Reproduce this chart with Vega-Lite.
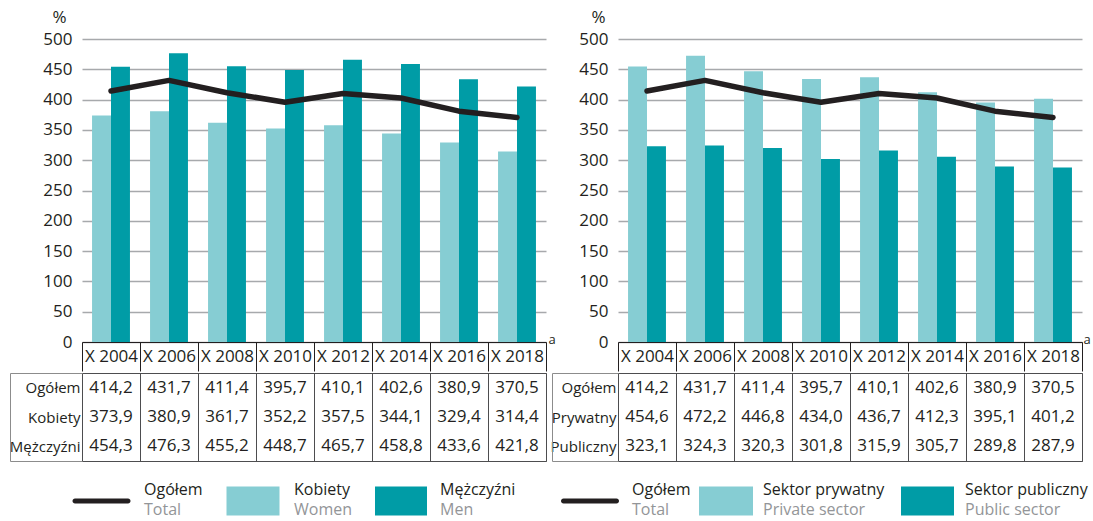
{
  "$schema": "https://vega.github.io/schema/vega-lite/v6.json",
  "padding": {"left": 8, "top": 8, "right": 2, "bottom": 4},
  "background": "white",
  "spacing": -7,
  "resolve": {"scale": {"xOffset": "independent"}},
  "datasets": {
    "left": [
      {"year": "X 2004", "series": "Ogółem", "value": 414.2},
      {"year": "X 2006", "series": "Ogółem", "value": 431.7},
      {"year": "X 2008", "series": "Ogółem", "value": 411.4},
      {"year": "X 2010", "series": "Ogółem", "value": 395.7},
      {"year": "X 2012", "series": "Ogółem", "value": 410.1},
      {"year": "X 2014", "series": "Ogółem", "value": 402.6},
      {"year": "X 2016", "series": "Ogółem", "value": 380.9},
      {"year": "X 2018", "series": "Ogółem", "value": 370.5},
      {"year": "X 2004", "series": "Kobiety", "value": 373.9},
      {"year": "X 2006", "series": "Kobiety", "value": 380.9},
      {"year": "X 2008", "series": "Kobiety", "value": 361.7},
      {"year": "X 2010", "series": "Kobiety", "value": 352.2},
      {"year": "X 2012", "series": "Kobiety", "value": 357.5},
      {"year": "X 2014", "series": "Kobiety", "value": 344.1},
      {"year": "X 2016", "series": "Kobiety", "value": 329.4},
      {"year": "X 2018", "series": "Kobiety", "value": 314.4},
      {"year": "X 2004", "series": "Mężczyźni", "value": 454.3},
      {"year": "X 2006", "series": "Mężczyźni", "value": 476.3},
      {"year": "X 2008", "series": "Mężczyźni", "value": 455.2},
      {"year": "X 2010", "series": "Mężczyźni", "value": 448.7},
      {"year": "X 2012", "series": "Mężczyźni", "value": 465.7},
      {"year": "X 2014", "series": "Mężczyźni", "value": 458.8},
      {"year": "X 2016", "series": "Mężczyźni", "value": 433.6},
      {"year": "X 2018", "series": "Mężczyźni", "value": 421.8}
    ],
    "right": [
      {"year": "X 2004", "series": "Ogółem", "value": 414.2},
      {"year": "X 2006", "series": "Ogółem", "value": 431.7},
      {"year": "X 2008", "series": "Ogółem", "value": 411.4},
      {"year": "X 2010", "series": "Ogółem", "value": 395.7},
      {"year": "X 2012", "series": "Ogółem", "value": 410.1},
      {"year": "X 2014", "series": "Ogółem", "value": 402.6},
      {"year": "X 2016", "series": "Ogółem", "value": 380.9},
      {"year": "X 2018", "series": "Ogółem", "value": 370.5},
      {"year": "X 2004", "series": "Prywatny", "value": 454.6},
      {"year": "X 2006", "series": "Prywatny", "value": 472.2},
      {"year": "X 2008", "series": "Prywatny", "value": 446.8},
      {"year": "X 2010", "series": "Prywatny", "value": 434.0},
      {"year": "X 2012", "series": "Prywatny", "value": 436.7},
      {"year": "X 2014", "series": "Prywatny", "value": 412.3},
      {"year": "X 2016", "series": "Prywatny", "value": 395.1},
      {"year": "X 2018", "series": "Prywatny", "value": 401.2},
      {"year": "X 2004", "series": "Publiczny", "value": 323.1},
      {"year": "X 2006", "series": "Publiczny", "value": 324.3},
      {"year": "X 2008", "series": "Publiczny", "value": 320.3},
      {"year": "X 2010", "series": "Publiczny", "value": 301.8},
      {"year": "X 2012", "series": "Publiczny", "value": 315.9},
      {"year": "X 2014", "series": "Publiczny", "value": 305.7},
      {"year": "X 2016", "series": "Publiczny", "value": 289.8},
      {"year": "X 2018", "series": "Publiczny", "value": 287.9}
    ],
    "legendL": [
      {"series": "Ogółem", "pl": "Ogółem", "en": "Total"},
      {"series": "Kobiety", "pl": "Kobiety", "en": "Women"},
      {"series": "Mężczyźni", "pl": "Mężczyźni", "en": "Men"}
    ],
    "legendR": [
      {"series": "Ogółem", "pl": "Ogółem", "en": "Total"},
      {"series": "Prywatny", "pl": "Sektor prywatny", "en": "Private sector"},
      {"series": "Publiczny", "pl": "Sektor publiczny", "en": "Public sector"}
    ]
  },
  "hconcat": [
    {
      "spacing": -7,
      "vconcat": [
        {
          "width": 464, "height": 303,
          "data": {"name": "left"},
          "encoding": {
            "x": {"field": "year", "type": "ordinal", "scale": {"paddingInner": 0, "paddingOuter": 0},
              "axis": {"title": "a", "titleX": 466, "titleY": -3, "titleAlign": "left", "titleBaseline": "middle", "titleFontSize": 13, "titleFontWeight": "normal", "titleAngle": 0,
                "domainColor": "#231F20", "domainWidth": 1, "tickBand": "extent", "tickSize": 29, "tickColor": "#231F20", "tickWidth": 1,
                "labelAngle": 0, "labelBaseline": "middle", "labelPadding": -14.5, "labelFontSize": 17, "grid": false}},
            "y": {"field": "value", "type": "quantitative", "scale": {"domain": [0, 500]},
              "axis": {"values": [0, 50, 100, 150, 200, 250, 300, 350, 400, 450, 500], "labelOverlap": false, "title": "%", "titleAngle": 0, "titleX": -23, "titleY": -22, "titleAlign": "center", "titleBaseline": "middle", "titleFontSize": 17, "titleFontWeight": "normal",
                "domain": false, "ticks": false, "grid": true, "gridColor": "#A7A9AC", "gridWidth": 1.6, "labelFontSize": 17, "labelPadding": 10}}
          },
          "layer": [
            {
              "transform": [{"filter": "datum.series !== 'Ogółem'"}],
              "mark": {"type": "bar"},
              "encoding": {
                "xOffset": {"field": "series", "type": "nominal", "scale": {"domain": ["Kobiety", "Mężczyźni"], "paddingInner": 0, "paddingOuter": 0.53}},
                "color": {"field": "series", "type": "nominal", "scale": {"domain": ["Kobiety", "Mężczyźni", "Prywatny", "Publiczny"], "range": ["#86CDD3", "#009CA6", "#86CDD3", "#009CA6"]}, "legend": null}
              }
            },
            {
              "transform": [{"filter": "datum.series === 'Ogółem'"}],
              "mark": {"type": "line", "color": "#231F20", "strokeWidth": 5.5, "strokeCap": "round", "strokeJoin": "round"}
            }
          ]
        },
        {
          "width": 464, "height": 88,
          "data": {"name": "left"},
          "view": {"stroke": "#4D4D4F", "strokeWidth": 1},
          "mark": {"type": "text", "fontSize": 17, "baseline": "middle"},
          "encoding": {
            "x": {"field": "year", "type": "ordinal", "scale": {"paddingInner": 0, "paddingOuter": 0},
              "axis": {"orient": "bottom", "title": null, "labels": false, "ticks": false, "domain": false, "grid": true, "tickBand": "extent", "gridColor": "#4D4D4F", "gridWidth": 1}},
            "y": {"field": "series", "type": "nominal", "scale": {"domain": ["Ogółem", "Kobiety", "Mężczyźni"], "paddingInner": 0, "paddingOuter": 0},
              "axis": {"title": null, "offset": 72, "domainColor": "#8C8C8C", "tickBand": "extent", "tickSize": -72, "tickColor": "#8C8C8C",
                "tickOpacity": {"condition": {"test": "datum.value === 'Ogółem' || datum.value === 'Kobiety'", "value": 0}, "value": 1},
                "labelFontSize": 15, "labelPadding": 2, "grid": false}},
            "text": {"field": "value", "type": "quantitative", "format": ".1f"}
          }
        },
        {
          "spacing": 0,
          "hconcat": [
            {
              "width": 144, "height": 30,
              "data": {"name": "legendL"},
              "transform": [{"filter": "datum.series === 'Ogółem'"}],
              "encoding": {"x": {"field": "series", "type": "nominal", "bandPosition": 0, "axis": null, "scale": {"paddingInner": 0, "paddingOuter": 0}}},
              "layer": [
                {"mark": {"type": "tick", "orient": "horizontal", "size": 58, "thickness": 5, "cornerRadius": 2.5, "color": "#231F20", "opacity": 1, "xOffset": -52.5, "yOffset": 24}},
                {"mark": {"type": "text", "align": "left", "baseline": "middle", "dx": 62, "dy": 13, "fontSize": 16}, "encoding": {"text": {"field": "pl"}}},
                {"mark": {"type": "text", "align": "left", "baseline": "middle", "dx": 62, "dy": 33, "fontSize": 16, "color": "#939598"}, "encoding": {"text": {"field": "en"}}}
              ]
            },
            {
              "width": 145, "height": 30,
              "data": {"name": "legendL"},
              "transform": [{"filter": "datum.series === 'Kobiety'"}],
              "encoding": {"x": {"field": "series", "type": "nominal", "bandPosition": 0, "axis": null, "scale": {"paddingInner": 0, "paddingOuter": 0}}},
              "layer": [
                {"mark": {"type": "tick", "orient": "horizontal", "size": 53, "thickness": 29, "opacity": 1, "xOffset": -49.5, "yOffset": 24},
                 "encoding": {"color": {"field": "series", "type": "nominal", "scale": {"domain": ["Kobiety", "Mężczyźni", "Prywatny", "Publiczny"], "range": ["#86CDD3", "#009CA6", "#86CDD3", "#009CA6"]}, "legend": null}}},
                {"mark": {"type": "text", "align": "left", "baseline": "middle", "dx": 64, "dy": 13, "fontSize": 16}, "encoding": {"text": {"field": "pl"}}},
                {"mark": {"type": "text", "align": "left", "baseline": "middle", "dx": 64, "dy": 33, "fontSize": 16, "color": "#939598"}, "encoding": {"text": {"field": "en"}}}
              ]
            },
            {
              "width": 170, "height": 30,
              "data": {"name": "legendL"},
              "transform": [{"filter": "datum.series === 'Mężczyźni'"}],
              "encoding": {"x": {"field": "series", "type": "nominal", "bandPosition": 0, "axis": null, "scale": {"paddingInner": 0, "paddingOuter": 0}}},
              "layer": [
                {"mark": {"type": "tick", "orient": "horizontal", "size": 52, "thickness": 29, "opacity": 1, "xOffset": -62, "yOffset": 24},
                 "encoding": {"color": {"field": "series", "type": "nominal", "scale": {"domain": ["Kobiety", "Mężczyźni", "Prywatny", "Publiczny"], "range": ["#86CDD3", "#009CA6", "#86CDD3", "#009CA6"]}, "legend": null}}},
                {"mark": {"type": "text", "align": "left", "baseline": "middle", "dx": 62, "dy": 13, "fontSize": 16}, "encoding": {"text": {"field": "pl"}}},
                {"mark": {"type": "text", "align": "left", "baseline": "middle", "dx": 62, "dy": 33, "fontSize": 16, "color": "#939598"}, "encoding": {"text": {"field": "en"}}}
              ]
            }
          ]
        }
      ]
    },
    {
      "spacing": -7,
      "vconcat": [
        {
          "width": 464, "height": 303,
          "data": {"name": "right"},
          "encoding": {
            "x": {"field": "year", "type": "ordinal", "scale": {"paddingInner": 0, "paddingOuter": 0},
              "axis": {"title": "a", "titleX": 465, "titleY": -3, "titleAlign": "left", "titleBaseline": "middle", "titleFontSize": 13, "titleFontWeight": "normal", "titleAngle": 0,
                "domainColor": "#231F20", "domainWidth": 1, "tickBand": "extent", "tickSize": 29, "tickColor": "#231F20", "tickWidth": 1,
                "labelAngle": 0, "labelBaseline": "middle", "labelPadding": -14.5, "labelFontSize": 17, "grid": false}},
            "y": {"field": "value", "type": "quantitative", "scale": {"domain": [0, 500]},
              "axis": {"values": [0, 50, 100, 150, 200, 250, 300, 350, 400, 450, 500], "labelOverlap": false, "title": "%", "titleAngle": 0, "titleX": -20, "titleY": -22, "titleAlign": "center", "titleBaseline": "middle", "titleFontSize": 17, "titleFontWeight": "normal",
                "domain": false, "ticks": false, "grid": true, "gridColor": "#A7A9AC", "gridWidth": 1.6, "labelFontSize": 17, "labelPadding": 10}}
          },
          "layer": [
            {
              "transform": [{"filter": "datum.series !== 'Ogółem'"}],
              "mark": {"type": "bar"},
              "encoding": {
                "xOffset": {"field": "series", "type": "nominal", "scale": {"domain": ["Prywatny", "Publiczny"], "paddingInner": 0, "paddingOuter": 0.53}},
                "color": {"field": "series", "type": "nominal", "scale": {"domain": ["Kobiety", "Mężczyźni", "Prywatny", "Publiczny"], "range": ["#86CDD3", "#009CA6", "#86CDD3", "#009CA6"]}, "legend": null}
              }
            },
            {
              "transform": [{"filter": "datum.series === 'Ogółem'"}],
              "mark": {"type": "line", "color": "#231F20", "strokeWidth": 5.5, "strokeCap": "round", "strokeJoin": "round"}
            }
          ]
        },
        {
          "width": 464, "height": 88,
          "data": {"name": "right"},
          "view": {"stroke": "#4D4D4F", "strokeWidth": 1},
          "mark": {"type": "text", "fontSize": 17, "baseline": "middle"},
          "encoding": {
            "x": {"field": "year", "type": "ordinal", "scale": {"paddingInner": 0, "paddingOuter": 0},
              "axis": {"orient": "bottom", "title": null, "labels": false, "ticks": false, "domain": false, "grid": true, "tickBand": "extent", "gridColor": "#4D4D4F", "gridWidth": 1}},
            "y": {"field": "series", "type": "nominal", "scale": {"domain": ["Ogółem", "Prywatny", "Publiczny"], "paddingInner": 0, "paddingOuter": 0},
              "axis": {"title": null, "offset": 66, "domainColor": "#8C8C8C", "tickBand": "extent", "tickSize": -66, "tickColor": "#8C8C8C",
                "tickOpacity": {"condition": {"test": "datum.value === 'Ogółem' || datum.value === 'Prywatny'", "value": 0}, "value": 1},
                "labelFontSize": 15, "labelPadding": 2, "grid": false}},
            "text": {"field": "value", "type": "quantitative", "format": ".1f"}
          }
        },
        {
          "spacing": 0,
          "hconcat": [
            {
              "width": 81, "height": 30,
              "data": {"name": "legendR"},
              "transform": [{"filter": "datum.series === 'Ogółem'"}],
              "encoding": {"x": {"field": "series", "type": "nominal", "bandPosition": 0, "axis": null, "scale": {"paddingInner": 0, "paddingOuter": 0}}},
              "layer": [
                {"mark": {"type": "tick", "orient": "horizontal", "size": 58, "thickness": 5, "cornerRadius": 2.5, "color": "#231F20", "opacity": 1, "xOffset": -68.5, "yOffset": 24}},
                {"mark": {"type": "text", "align": "left", "baseline": "middle", "dx": 14, "dy": 13, "fontSize": 16}, "encoding": {"text": {"field": "pl"}}},
                {"mark": {"type": "text", "align": "left", "baseline": "middle", "dx": 14, "dy": 33, "fontSize": 16, "color": "#939598"}, "encoding": {"text": {"field": "en"}}}
              ]
            },
            {
              "width": 202, "height": 30,
              "data": {"name": "legendR"},
              "transform": [{"filter": "datum.series === 'Prywatny'"}],
              "encoding": {"x": {"field": "series", "type": "nominal", "bandPosition": 0, "axis": null, "scale": {"paddingInner": 0, "paddingOuter": 0}}},
              "layer": [
                {"mark": {"type": "tick", "orient": "horizontal", "size": 54, "thickness": 29, "opacity": 1, "xOffset": -74, "yOffset": 24},
                 "encoding": {"color": {"field": "series", "type": "nominal", "scale": {"domain": ["Kobiety", "Mężczyźni", "Prywatny", "Publiczny"], "range": ["#86CDD3", "#009CA6", "#86CDD3", "#009CA6"]}, "legend": null}}},
                {"mark": {"type": "text", "align": "left", "baseline": "middle", "dx": 64, "dy": 13, "fontSize": 16}, "encoding": {"text": {"field": "pl"}}},
                {"mark": {"type": "text", "align": "left", "baseline": "middle", "dx": 64, "dy": 33, "fontSize": 16, "color": "#939598"}, "encoding": {"text": {"field": "en"}}}
              ]
            },
            {
              "width": 190, "height": 30,
              "data": {"name": "legendR"},
              "transform": [{"filter": "datum.series === 'Publiczny'"}],
              "encoding": {"x": {"field": "series", "type": "nominal", "bandPosition": 0, "axis": null, "scale": {"paddingInner": 0, "paddingOuter": 0}}},
              "layer": [
                {"mark": {"type": "tick", "orient": "horizontal", "size": 53, "thickness": 29, "opacity": 1, "xOffset": -68.5, "yOffset": 24},
                 "encoding": {"color": {"field": "series", "type": "nominal", "scale": {"domain": ["Kobiety", "Mężczyźni", "Prywatny", "Publiczny"], "range": ["#86CDD3", "#009CA6", "#86CDD3", "#009CA6"]}, "legend": null}}},
                {"mark": {"type": "text", "align": "left", "baseline": "middle", "dx": 64, "dy": 13, "fontSize": 16}, "encoding": {"text": {"field": "pl"}}},
                {"mark": {"type": "text", "align": "left", "baseline": "middle", "dx": 64, "dy": 33, "fontSize": 16, "color": "#939598"}, "encoding": {"text": {"field": "en"}}}
              ]
            }
          ]
        }
      ]
    }
  ],
  "config": {
    "font": "Open Sans",
    "view": {"stroke": null},
    "axis": {"labelColor": "#231F20", "titleColor": "#231F20"},
    "text": {"color": "#231F20", "font": "Open Sans"},
    "locale": {"number": {"decimal": ",", "thousands": " ", "grouping": [3], "currency": ["", ""]}}
  }
}
